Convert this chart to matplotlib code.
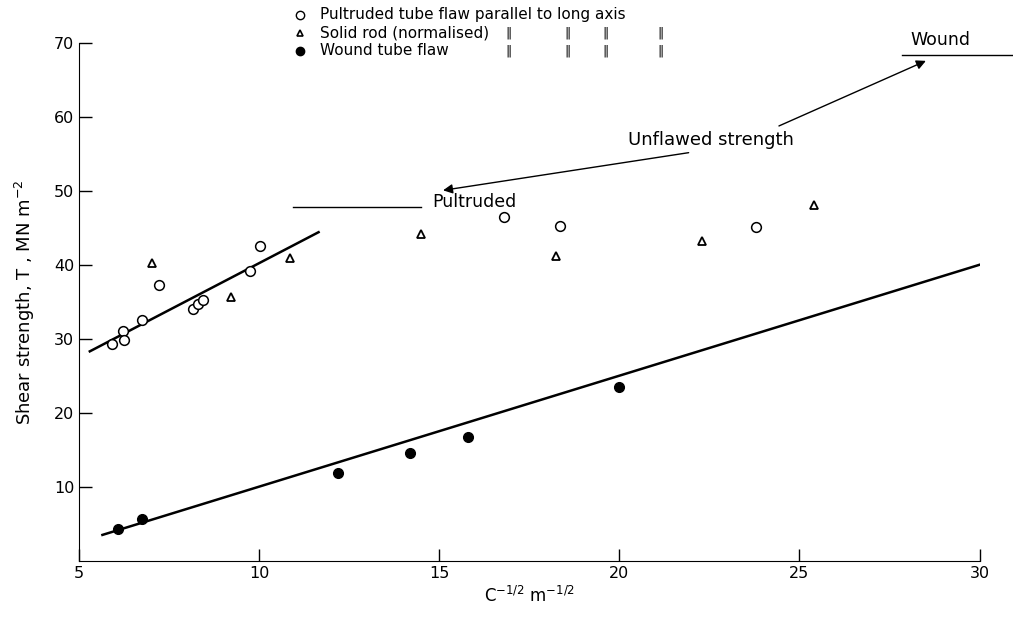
import matplotlib.pyplot as plt

# pultruded tube, flaw parallel to long axis (open circles)
pult_x = [5.92, 6.22, 6.26, 6.75, 7.21, 8.16, 8.31, 8.45, 9.76, 10.03, 16.8, 18.35, 23.8]
pult_y = [29.3, 31.0, 29.8, 32.6, 37.2, 34.0, 34.7, 35.2, 39.1, 42.5, 46.4, 45.2, 45.1]

# solid rod, normalised (triangles)
rod_x = [7.04, 9.22, 10.85, 14.5, 18.25, 22.3, 25.4]
rod_y = [40.3, 35.7, 40.9, 44.2, 41.2, 43.2, 48.1]

# wound tube flaw (filled circles)
wound_x = [6.07, 6.75, 12.2, 14.2, 15.8, 20.0]
wound_y = [4.3, 5.7, 11.8, 14.6, 16.7, 23.5]

# fitted lines
pult_fit_x = [5.3, 11.65]
pult_fit_y = [28.3, 44.4]
wound_fit_x = [5.65, 30.0]
wound_fit_y = [3.5, 40.0]

xticks = [5, 10, 15, 20, 25, 30]
yticks = [10, 20, 30, 40, 50, 60, 70]

plt.rcParams['font.family'] = 'DejaVu Sans'

fig = plt.figure(figsize=(10.13, 6.19), dpi=100)
ax = fig.add_axes([0.078, 0.094, 0.889, 0.837])

ax.plot(pult_fit_x, pult_fit_y, color='black', lw=1.8)
ax.plot(wound_fit_x, wound_fit_y, color='black', lw=1.8)
ax.plot(pult_x, pult_y, 'o', mfc='white', mec='black', ms=7, mew=1.1, ls='none')
ax.plot(rod_x, rod_y, '^', mfc='white', mec='black', ms=5.5, mew=1.3, ls='none')
ax.plot(wound_x, wound_y, 'o', color='black', ms=7, ls='none')

ax.set_xlim(5, 30)
ax.set_ylim(0, 70)
ax.set_xticks(xticks)
ax.set_yticks(yticks)
ax.tick_params(direction='in', length=9, width=1, labelsize=11.5)
ax.spines['top'].set_visible(False)
ax.spines['right'].set_visible(False)

ax.set_xlabel(r'C$^{-1/2}$ m$^{-1/2}$', fontsize=12)
ax.set_ylabel(r'Shear strength, T , MN m$^{-2}$', fontsize=13, labelpad=12)

# unflawed strength annotations
ax.plot([10.94, 14.5], [47.8, 47.8], color='black', lw=1)
ax.text(14.8, 48.5, 'Pultruded', fontsize=12.5, va='center', ha='left')
ax.plot([27.86, 30.9], [68.3, 68.3], color='black', lw=1, clip_on=False)
ax.text(28.9, 70.4, 'Wound', fontsize=12.5, va='center', ha='center')
ax.text(22.55, 56.8, 'Unflawed strength', fontsize=13, va='center', ha='center')
ax.annotate('', xy=(15.03, 50.0), xytext=(22.0, 55.2),
            arrowprops=dict(arrowstyle='-|>', color='black', lw=1, mutation_scale=14))
ax.annotate('', xy=(28.58, 67.7), xytext=(24.36, 58.6),
            arrowprops=dict(arrowstyle='-|>', color='black', lw=1, mutation_scale=14))

# legend drawn by hand, with ditto marks
rows = [0.976, 0.947, 0.918]
fig.lines.append(plt.Line2D([0.296], [rows[0]], marker='o', mfc='white', mec='black',
                            ms=6, ls='none', transform=fig.transFigure))
fig.lines.append(plt.Line2D([0.296], [rows[1]], marker='^', mfc='white', mec='black',
                            ms=5, mew=1.2, ls='none', transform=fig.transFigure))
fig.lines.append(plt.Line2D([0.296], [rows[2]], marker='o', color='black',
                            ms=6, ls='none', transform=fig.transFigure))
fig.text(0.316, rows[0], 'Pultruded tube flaw parallel to long axis', fontsize=11, va='center')
fig.text(0.316, rows[1], 'Solid rod (normalised)', fontsize=11, va='center')
fig.text(0.316, rows[2], 'Wound tube flaw', fontsize=11, va='center')
for r in rows[1:]:
    for dx in [0.502, 0.560, 0.598, 0.652]:
        fig.text(dx, r, '\u2016', fontsize=9, va='center', ha='center')

fig.savefig('out.png', dpi=100)
